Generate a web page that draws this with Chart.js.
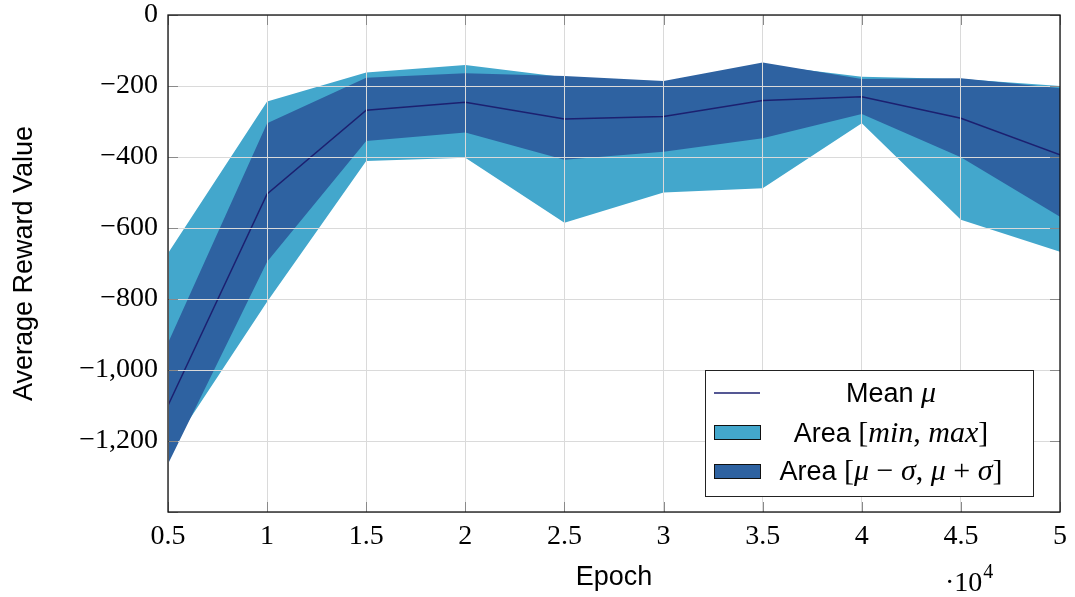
<!DOCTYPE html>
<html lang="en">
<head>
<meta charset="UTF-8">
<title>Average Reward Value</title>
<script src="https://cdn.jsdelivr.net/npm/chart.js"></script>
<style>
  html, body { margin: 0; padding: 0; background: #fff; }
  #wrap { width: 1075px; height: 597px; }
</style>
</head>
<body>
<div id="wrap"><canvas id="rewardChart" width="1075" height="597"></canvas></div>

<script>
    // epochs (x values, shown as multiples of 10^4)
    const epochs = [5000, 10000, 15000, 20000, 25000, 30000, 35000, 40000, 45000, 50000];

    const meanVals = [-1100, -504, -268, -246, -293, -286, -241, -230, -291, -394];
    const sdHigh   = [-924, -305, -177, -164, -172, -186, -134, -180, -178, -206];
    const sdLow    = [-1265, -695, -355, -331, -408, -385, -347, -279, -401, -568];
    const maxVals  = [-671, -244, -162, -141, -175, -190, -140, -174, -180, -200];
    const minVals  = [-1231, -808, -411, -402, -585, -500, -488, -305, -577, -667];

    const yTicks = [0, -200, -400, -600, -800, -1000, -1200];

    const lightBlue = 'rgb(67,167,204)';
    const darkBlue = 'rgb(46,98,161)';
    const meanColor = 'rgb(28,32,112)';

    const sansFont = "'Liberation Sans', Arial, sans-serif";
    const serifFont = "'Liberation Serif', 'Times New Roman', serif";

    function pts(vals) {
        return vals.map((v, i) => ({ x: epochs[i], y: v }));
    }

    function fmtNum(v) {
        const s = Math.abs(v).toLocaleString('en-US');
        return v < 0 ? '\u2212' + s : s;
    }

    // draw a row of text made of pieces with different fonts, centred on cx
    function drawPieces(ctx, pieces, cx, baseline) {
        let total = 0;
        pieces.forEach(p => { ctx.font = p.f; total += ctx.measureText(p.t).width; });
        let x = cx - total / 2;
        ctx.textAlign = 'left';
        ctx.textBaseline = 'alphabetic';
        ctx.fillStyle = '#000';
        pieces.forEach(p => {
            ctx.font = p.f;
            ctx.fillText(p.t, x, baseline);
            x += ctx.measureText(p.t).width;
        });
    }

    const frameAndLegend = {
        id: 'frameAndLegend',
        afterDraw(chart) {
            const ctx = chart.ctx;
            const a = chart.chartArea;
            ctx.save();

            // little tick marks inside the frame
            ctx.strokeStyle = '#8a8a8a';
            ctx.lineWidth = 1;
            chart.scales.y.ticks.forEach(t => {
                const y = Math.round(chart.scales.y.getPixelForValue(t.value)) + 0.5;
                ctx.beginPath();
                ctx.moveTo(a.left, y); ctx.lineTo(a.left + 10, y);
                ctx.moveTo(a.right, y); ctx.lineTo(a.right - 10, y);
                ctx.stroke();
            });
            chart.scales.x.ticks.forEach(t => {
                const x = Math.round(chart.scales.x.getPixelForValue(t.value)) + 0.5;
                ctx.beginPath();
                ctx.moveTo(x, a.bottom); ctx.lineTo(x, a.bottom - 10);
                ctx.moveTo(x, a.top); ctx.lineTo(x, a.top + 10);
                ctx.stroke();
            });

            // axis frame
            ctx.strokeStyle = '#111';
            ctx.lineWidth = 1.3;
            ctx.strokeRect(a.left, a.top, a.right - a.left, a.bottom - a.top);

            // legend
            const lx = 705.5, ly = 370.5, lw = 328, lh = 126;
            ctx.fillStyle = '#fff';
            ctx.fillRect(lx, ly, lw, lh);
            ctx.strokeStyle = '#222';
            ctx.lineWidth = 1;
            ctx.strokeRect(lx, ly, lw, lh);

            ctx.strokeStyle = meanColor;
            ctx.lineWidth = 1.5;
            ctx.beginPath();
            ctx.moveTo(714, 393); ctx.lineTo(760, 393);
            ctx.stroke();

            ctx.lineWidth = 1;
            ctx.strokeStyle = '#111';
            ctx.fillStyle = lightBlue;
            ctx.fillRect(714.5, 425.5, 46, 14);
            ctx.strokeRect(714.5, 425.5, 46, 14);
            ctx.fillStyle = darkBlue;
            ctx.fillRect(714.5, 464.5, 46, 14);
            ctx.strokeRect(714.5, 464.5, 46, 14);

            const sans = '27px ' + sansFont;
            const rm = '30px ' + serifFont;
            const it = 'italic 30px ' + serifFont;
            drawPieces(ctx, [{ t: 'Mean ', f: sans }, { t: '\u03bc', f: it }], 891, 402);
            drawPieces(ctx, [
                { t: 'Area ', f: sans }, { t: '[', f: rm }, { t: 'min', f: it },
                { t: ', ', f: rm }, { t: 'max', f: it }, { t: ']', f: rm }
            ], 891, 442);
            drawPieces(ctx, [
                { t: 'Area ', f: sans }, { t: '[', f: rm }, { t: '\u03bc', f: it },
                { t: ' \u2212 ', f: rm }, { t: '\u03c3', f: it }, { t: ', ', f: rm },
                { t: '\u03bc', f: it }, { t: ' + ', f: rm }, { t: '\u03c3', f: it },
                { t: ']', f: rm }
            ], 891, 480);

            // x scale factor
            ctx.fillStyle = '#000';
            ctx.textAlign = 'left';
            ctx.font = '28px ' + serifFont;
            ctx.fillText('\u00b710', 945, 591);
            const w = ctx.measureText('\u00b710').width;
            ctx.font = '20px ' + serifFont;
            ctx.fillText('4', 945 + w + 1, 578);

            ctx.restore();
        }
    };

    const ctx = document.getElementById('rewardChart').getContext('2d');
    new Chart(ctx, {
        type: 'line',
        data: {
            datasets: [
                {
                    label: 'Mean \u03bc',
                    data: pts(meanVals),
                    borderColor: meanColor,
                    borderWidth: 1.5,
                    fill: false
                },
                {
                    label: 'mu + sigma',
                    data: pts(sdHigh),
                    borderWidth: 0,
                    borderColor: darkBlue,
                    backgroundColor: darkBlue,
                    fill: '+1'
                },
                {
                    label: 'mu - sigma',
                    data: pts(sdLow),
                    borderWidth: 0,
                    borderColor: darkBlue,
                    fill: false
                },
                {
                    label: 'max',
                    data: pts(maxVals),
                    borderWidth: 0,
                    borderColor: lightBlue,
                    backgroundColor: lightBlue,
                    fill: '+1'
                },
                {
                    label: 'min',
                    data: pts(minVals),
                    borderWidth: 0,
                    borderColor: lightBlue,
                    fill: false
                }
            ]
        },
        options: {
            responsive: false,
            animation: false,
            devicePixelRatio: 1,
            elements: {
                line: { tension: 0 },
                point: { radius: 0, hoverRadius: 0 }
            },
            layout: { padding: { top: 15, right: 15, left: 0, bottom: 0 } },
            plugins: {
                legend: { display: false },
                tooltip: { enabled: false }
            },
            scales: {
                x: {
                    type: 'linear',
                    min: 5000,
                    max: 50000,
                    afterFit: s => { s.height = 85; s.paddingLeft = 0; s.paddingRight = 0; },
                    grid: { color: 'rgb(218,218,218)', lineWidth: 1, drawTicks: false, z: 1 },
                    border: { display: false },
                    ticks: {
                        stepSize: 5000,
                        padding: 8,
                        color: '#000',
                        font: { family: serifFont, size: 28 },
                        callback: v => String(v / 10000)
                    },
                    title: {
                        display: true,
                        text: 'Epoch',
                        color: '#000',
                        font: { family: sansFont, size: 27 },
                        padding: { top: 0, bottom: 3 }
                    }
                },
                y: {
                    min: -1400,
                    max: 0,
                    afterFit: s => { s.width = 168; s.paddingTop = 0; s.paddingBottom = 0; },
                    afterBuildTicks: s => {
                        s.ticks = [-1400].concat(yTicks.slice().reverse()).map(v => ({ value: v }));
                    },
                    grid: { color: 'rgb(218,218,218)', lineWidth: 1, drawTicks: false, z: 1 },
                    border: { display: false },
                    ticks: {
                        padding: 10,
                        color: '#000',
                        font: { family: serifFont, size: 28 },
                        callback: v => (v === -1400 ? '' : fmtNum(v))
                    },
                    title: {
                        display: true,
                        text: 'Average Reward Value',
                        color: '#000',
                        font: { family: sansFont, size: 27 },
                        padding: { top: 8, bottom: 0 }
                    }
                }
            }
        },
        plugins: [frameAndLegend]
    });
</script>
</body>
</html>
